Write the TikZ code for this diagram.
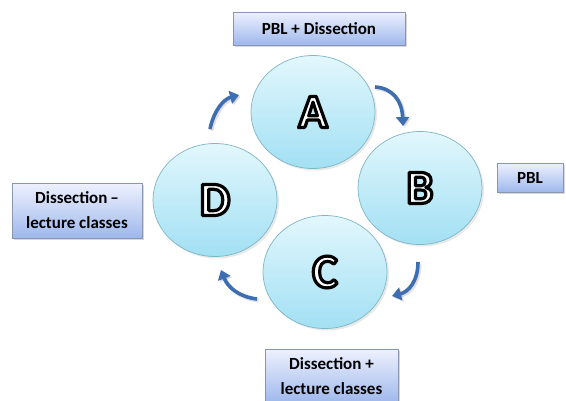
\documentclass[tikz,border=0pt]{standalone}
\usepackage{fontspec}
\setmainfont{Carlito}
\usetikzlibrary{shadows,arrows.meta,shapes.geometric}
\definecolor{circtop}{HTML}{E2F7FD}
\definecolor{circbot}{HTML}{A2E0F3}
\definecolor{circline}{HTML}{7FB6C6}
\definecolor{boxtop}{HTML}{EEF1FE}
\definecolor{boxbot}{HTML}{9EB8EC}
\definecolor{boxline}{HTML}{8896B4}
\definecolor{arrowblue}{HTML}{3E6EB2}
\tikzset{
  stage/.style={ellipse, minimum width=124pt, minimum height=113pt, inner sep=0pt,
    top color=circtop, bottom color=circbot, draw=circline, line width=0.7pt,
    drop shadow={shadow xshift=2pt, shadow yshift=-2pt, opacity=0.18}},
  label box/.style={rectangle, inner sep=0pt, top color=boxtop, bottom color=boxbot,
    draw=boxline, line width=0.6pt, align=center, font=\bfseries\fontsize{17}{25}\selectfont,
    drop shadow={shadow xshift=2pt, shadow yshift=-2pt, opacity=0.3}},
  cycle arrow/.style={draw=arrowblue, line width=3.6pt,
    -{Triangle[width=13pt,length=9pt]},
    preaction={draw=black, opacity=0.12, line width=4pt, transform canvas={xshift=1.5pt,yshift=-1.5pt}}},
  letter/.style={font=\bfseries\fontsize{48}{48}\selectfont}
}
\newcommand{\bigletter}[1]{{\color{white}\special{pdf:literal direct 0 0 0 RG 3.2 w 1 j 2 Tr}#1\special{pdf:literal direct 0 Tr}}}
\begin{document}
\begin{tikzpicture}[x=1pt,y=-1pt]
\useasboundingbox (0,0) rectangle (566,400);
\fill[white] (0,0) rectangle (566,400);
% circles
\node[stage] (A) at (313,112) {};
\node[stage] (B) at (420,188) {};
\node[stage] (C) at (325,272) {};
\node[stage] (D) at (215,200) {};
\node[letter] at (A) {\bigletter{A}};
\node[letter] at (B) {\bigletter{B}};
\node[letter] at (C) {\bigletter{C}};
\node[letter] at (D) {\bigletter{D}};
% boxes
\node[label box, minimum width=172pt, minimum height=33pt] (tA) at (319,28.5) {PBL + Dissection};
\node[label box, minimum width=66pt, minimum height=29pt] (tB) at (530,177.5) {PBL};
\node[label box, minimum width=130pt, minimum height=55pt] (tD) at (77,210.5) {Dissection\,--\\lecture classes};
\node[label box, minimum width=133pt, minimum height=54pt] (tC) at (331.5,376) {Dissection +\\lecture classes};
% arrows
\coordinate (a1s) at (210,129);
\coordinate (a1e) at (239,95);
\coordinate (a2s) at (375,87);
\coordinate (a2e) at (403,126);
\coordinate (a3s) at (418,262);
\coordinate (a3e) at (392,296);
\coordinate (a4s) at (257,299);
\coordinate (a4e) at (221,270);
\draw[cycle arrow] (a1s) .. controls (214,110) and (224,99) .. (a1e);
\draw[cycle arrow] (a2s) .. controls (392,88) and (402,100) .. (a2e);
\draw[cycle arrow] (a3s) .. controls (418,282) and (408,292) .. (a3e);
\draw[cycle arrow] (a4s) .. controls (240,297) and (228,288) .. (a4e);
\end{tikzpicture}
\end{document}
